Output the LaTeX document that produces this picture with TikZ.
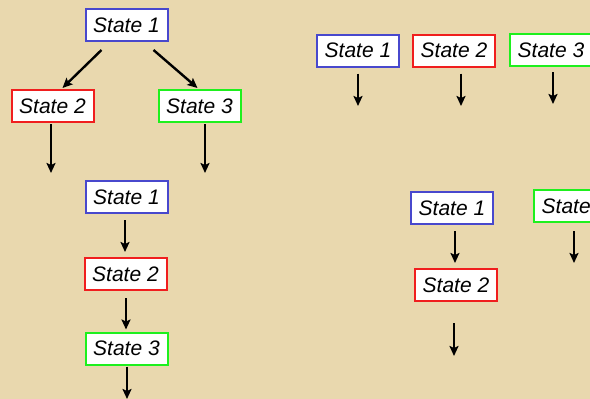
\documentclass[tikz,border=0pt]{standalone}
\usepackage{fontspec}
\setmainfont{Liberation Sans}
\usetikzlibrary{arrows.meta}
\definecolor{parch}{RGB}{233,216,174}
\definecolor{sblue}{RGB}{72,72,205}
\definecolor{sred}{RGB}{240,30,30}
\definecolor{sgreen}{RGB}{30,240,30}
\tikzset{
  statebox/.style={draw=#1, fill=white, line width=2pt, minimum width=82pt,
    minimum height=32pt, inner sep=0pt,
    font=\fontsize{21}{25}\selectfont\itshape},
  arr/.style={line width=2.4pt, -{Stealth[length=10pt,width=9pt,inset=2pt]}}
}
\begin{document}
\begin{tikzpicture}[x=1pt,y=-1pt]
  \useasboundingbox (0,0) rectangle (590,399);
  \clip (0,0) rectangle (590,399);
  \fill[parch] (0,0) rectangle (590,399);

  % branching tree
  \node[statebox=sblue]  (a1) at (126.5,25)  {State 1};
  \node[statebox=sred]   (a2) at (52.5,106)  {State 2};
  \node[statebox=sgreen] (a3) at (199.5,106) {State 3};
  \coordinate (ea2) at (51,173);
  \coordinate (ea3) at (205,173);
  \draw[arr] ([xshift=-25pt,yshift=-8pt]a1.south) -- ([xshift=10pt,yshift=1pt]a2.north);
  \draw[arr] ([xshift=27pt,yshift=-8pt]a1.south) -- ([xshift=-2pt,yshift=1pt]a3.north);
  \draw[arr] ([xshift=-1.5pt,yshift=-1pt]a2.south) -- (ea2);
  \draw[arr] ([xshift=5.5pt,yshift=-1pt]a3.south) -- (ea3);

  % linear chain
  \node[statebox=sblue]  (b1) at (126.5,197)   {State 1};
  \node[statebox=sred]   (b2) at (125.5,274)   {State 2};
  \node[statebox=sgreen] (b3) at (126.5,348.5) {State 3};
  \coordinate (eb3) at (127,399);
  \draw[arr] ([xshift=-1.5pt,yshift=-6pt]b1.south) -- ([xshift=-0.5pt,yshift=5pt]b2.north);
  \draw[arr] ([xshift=0.5pt,yshift=-7pt]b2.south) -- ([xshift=-0.5pt,yshift=2pt]b3.north);
  \draw[arr] ([xshift=0.5pt,yshift=-1pt]b3.south) -- (eb3);

  % parallel states
  \node[statebox=sblue]  (c1) at (358,50.5) {State 1};
  \node[statebox=sred]   (c2) at (454,50.5) {State 2};
  \node[statebox=sgreen] (c3) at (551,50)   {State 3};
  \coordinate (ec1) at (358,106);
  \coordinate (ec2) at (461,106);
  \coordinate (ec3) at (553,104);
  \draw[arr] ([yshift=-6pt]c1.south) -- (ec1);
  \draw[arr] ([xshift=7pt,yshift=-6pt]c2.south) -- (ec2);
  \draw[arr] ([xshift=2pt,yshift=-5pt]c3.south) -- (ec3);

  % mixed states
  \node[statebox=sblue]  (d1) at (452,208) {State 1};
  \node[statebox=sred]   (d2) at (456,285) {State 2};
  \node[statebox=sgreen] (d3) at (575,206) {State 3};
  \coordinate (ed2) at (454,356);
  \coordinate (ed3) at (574,263);
  \draw[arr] ([xshift=3pt,yshift=-6pt]d1.south) -- ([xshift=-1pt,yshift=5pt]d2.north);
  \draw[arr] ([xshift=-2pt,yshift=-21pt]d2.south) -- (ed2);
  \draw[arr] ([xshift=-1pt,yshift=-8pt]d3.south) -- (ed3);
\end{tikzpicture}
\end{document}
